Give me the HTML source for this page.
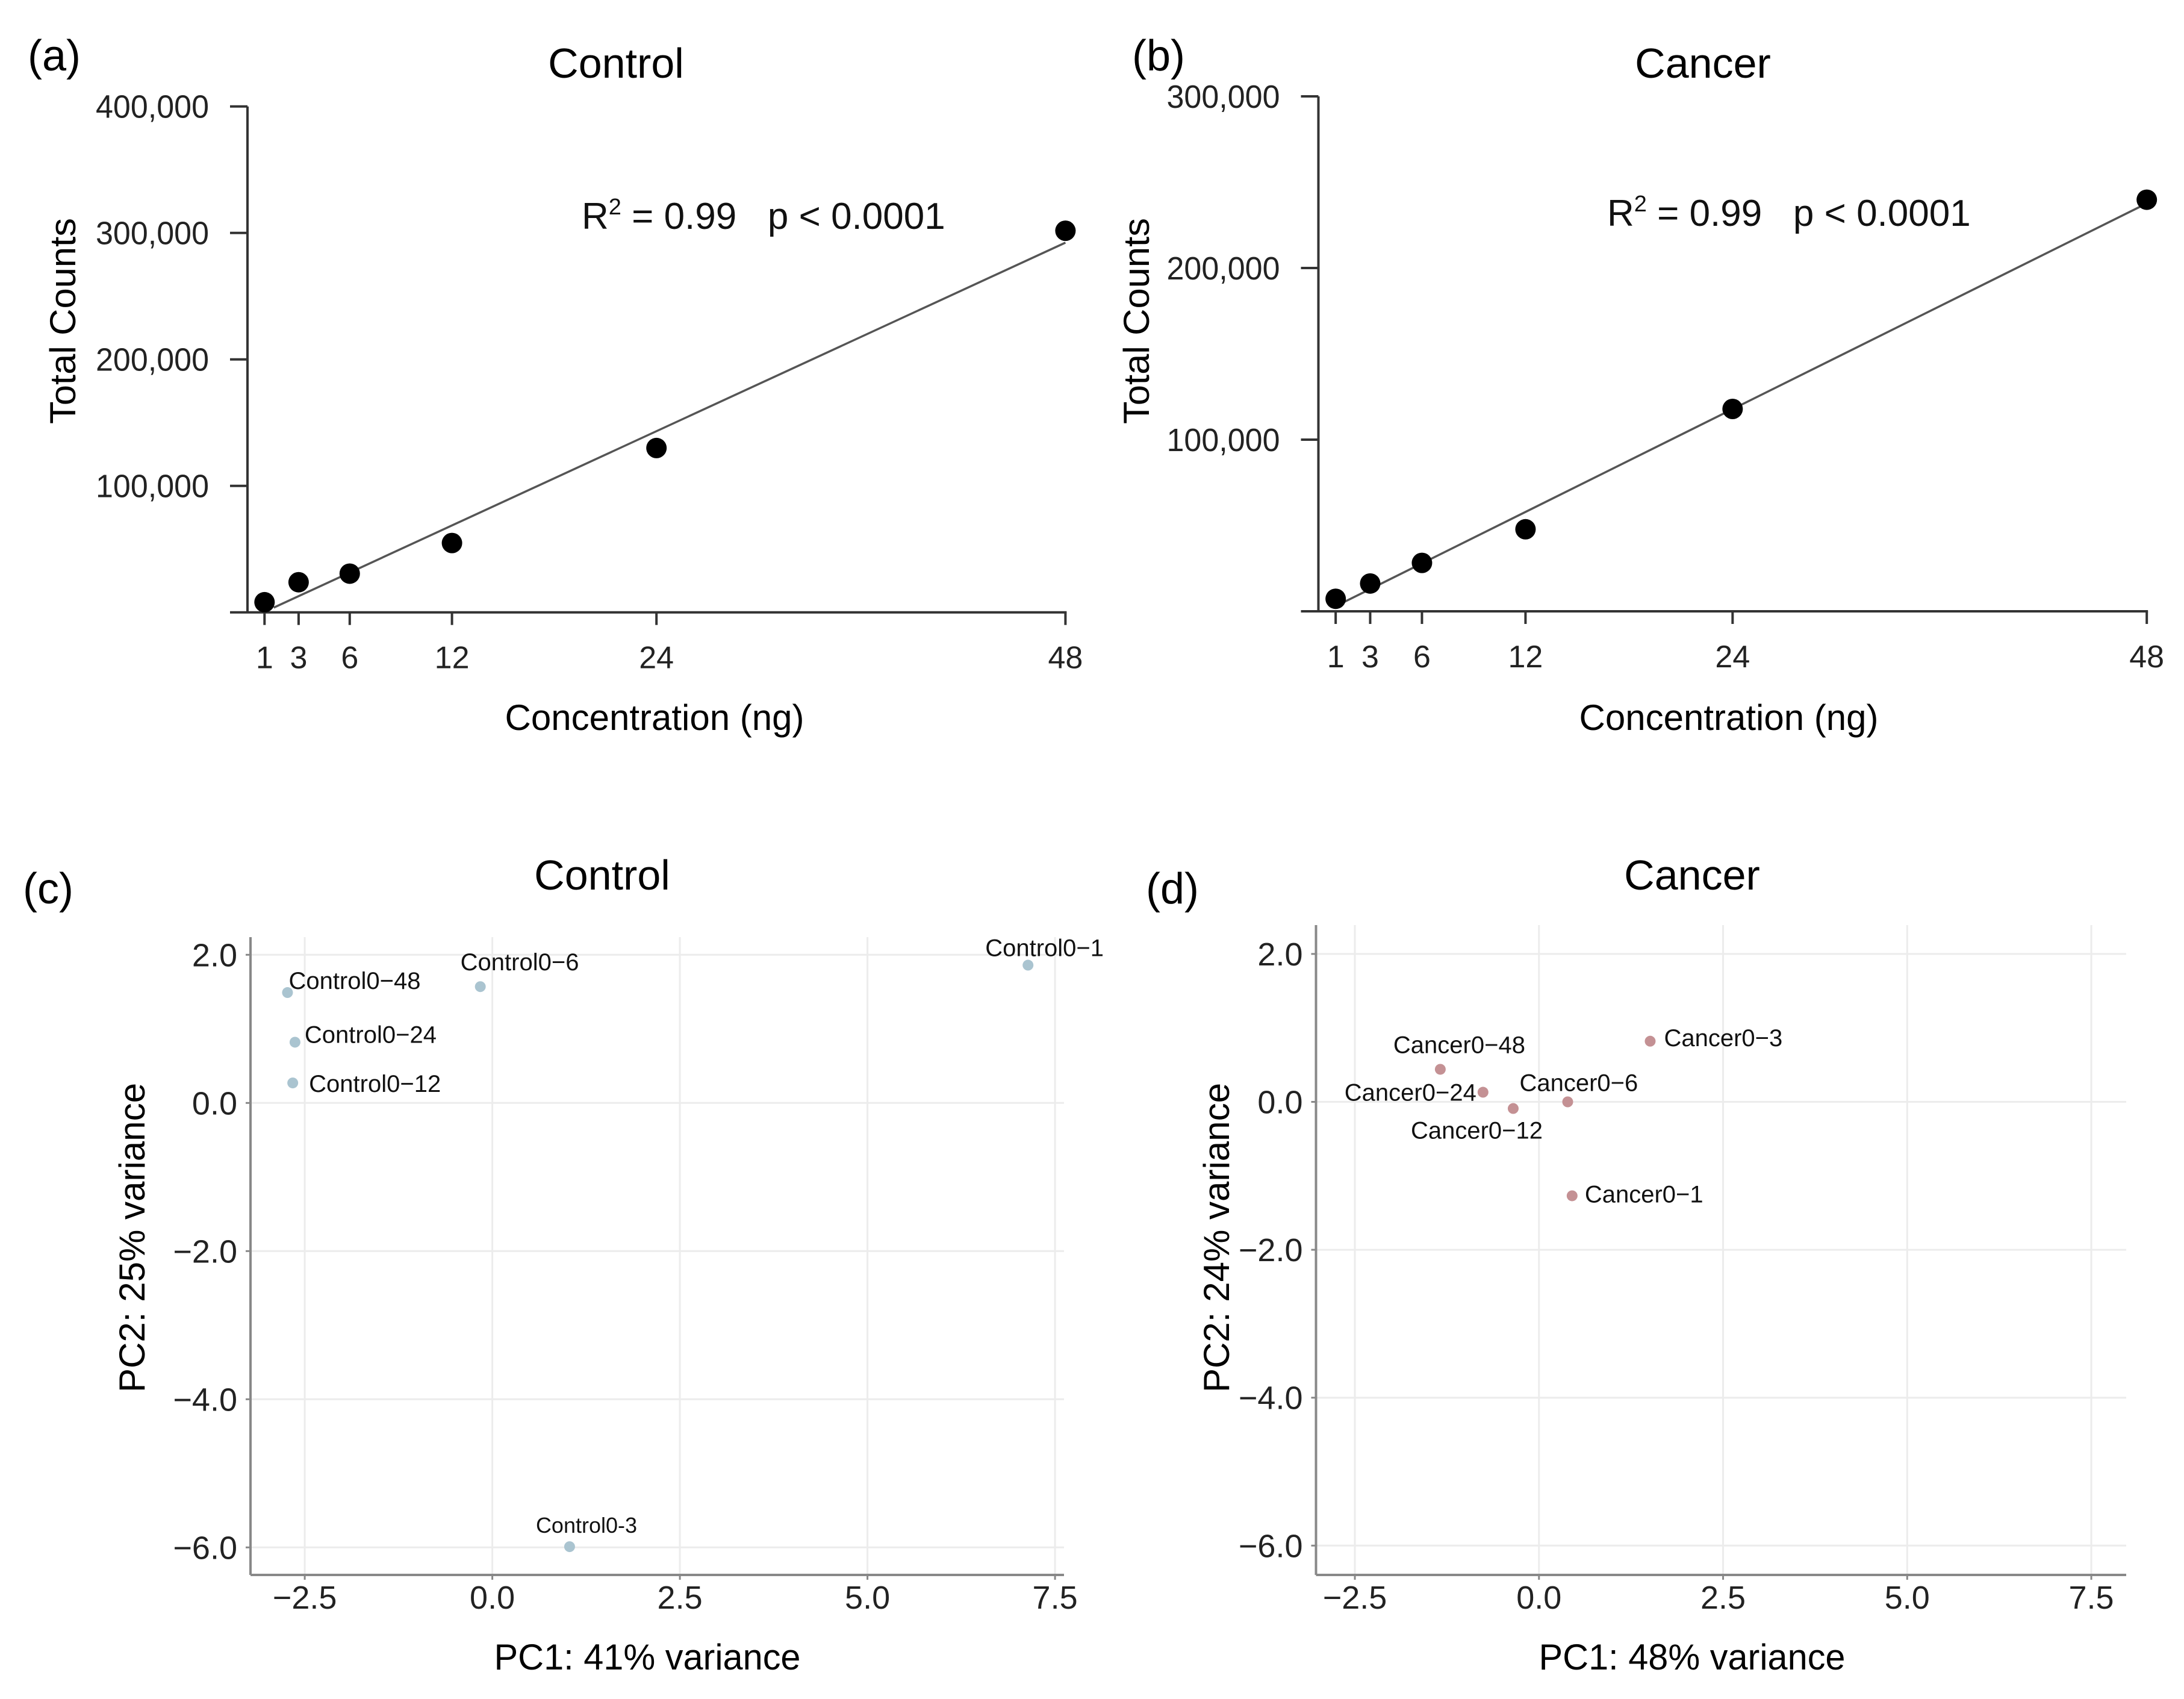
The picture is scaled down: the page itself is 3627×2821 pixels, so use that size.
<!DOCTYPE html>
<html><head><meta charset="utf-8"><style>
html,body{margin:0;padding:0;background:#fff;}
svg{display:block;font-family:"Liberation Sans",Arial,sans-serif;}
</style></head><body>
<svg id="fig" xmlns="http://www.w3.org/2000/svg" width="3627" height="2821" viewBox="0 0 3627 2821">
<rect width="3627" height="2821" fill="#fff"/>
<g id="layer"></g>
</svg>
<script>
// ---- Panel (a) & (b) data: concentration vs total counts ----
const concentrations = [1, 3, 6, 12, 24, 48];
const controlCounts = [8000, 23800, 30600, 54800, 129900, 301700];
const cancerCounts = [7300, 16200, 28200, 47800, 117900, 239800];
const controlYTicks = [100000, 200000, 300000, 400000];
const controlYTickLabels = ["100,000", "200,000", "300,000", "400,000"];
const cancerYTicks = [100000, 200000, 300000];
const cancerYTickLabels = ["100,000", "200,000", "300,000"];
const concTickLabels = ["1", "3", "6", "12", "24", "48"];

// ---- Panel (c) & (d) data: PCA ----
const controlSamples = ["Control0\u22121", "Control0\u221248", "Control0\u22126", "Control0\u221224", "Control0\u221212", "Control0-3"];
const controlPC1 = [7.14, -2.73, -0.16, -2.63, -2.66, 1.03];
const controlPC2 = [1.86, 1.49, 1.57, 0.82, 0.27, -5.99];
const cancerSamples = ["Cancer0\u22123", "Cancer0\u221248", "Cancer0\u221224", "Cancer0\u221212", "Cancer0\u22126", "Cancer0\u22121"];
const cancerPC1 = [1.51, -1.34, -0.76, -0.35, 0.39, 0.45];
const cancerPC2 = [0.82, 0.44, 0.13, -0.09, 0.0, -1.27];
const pcXTicks = [-2.5, 0, 2.5, 5, 7.5];
const pcXTickLabels = ["\u22122.5", "0.0", "2.5", "5.0", "7.5"];
const pcYTicks = [2, 0, -2, -4, -6];
const pcYTickLabels = ["2.0", "0.0", "\u22122.0", "\u22124.0", "\u22126.0"];

const NS = "http://www.w3.org/2000/svg";
const layer = document.getElementById("layer");
function mk(tag, attrs, parent, text) {
  const e = document.createElementNS(NS, tag);
  for (const k in attrs) e.setAttribute(k, attrs[k]);
  if (text !== undefined) e.textContent = text;
  (parent || layer).appendChild(e);
  return e;
}

function regressionPanel(cfg) {
  const g = mk("g", {});
  
  
  const xs = v => cfg.x0 + v * cfg.xu;
  const ys = v => cfg.y0 - v * cfg.yu;
  let t = mk("text", {x: cfg.letterX, y: 117, "font-size": 72}, g, cfg.letter);
  
  
  t = mk("text", {x: cfg.titleX, y: 129, "font-size": 70, "text-anchor": "middle"}, g, cfg.title);
  
  
  const axisTop = ys(cfg.yTicks[cfg.yTicks.length - 1]);
  let a = mk("line", {x1: cfg.x0, y1: axisTop, x2: cfg.x0, y2: cfg.y0, stroke: "#333", "stroke-width": 4}, g);
  
  
  a = mk("line", {x1: cfg.x0 - 29, y1: cfg.y0, x2: xs(48) + 2, y2: cfg.y0, stroke: "#333", "stroke-width": 4}, g);
  
  
  cfg.yTicks.forEach((v, i) => {
    const y = ys(v);
    const l = mk("line", {x1: cfg.x0 - 29, y1: y, x2: cfg.x0, y2: y, stroke: "#333", "stroke-width": 4}, g);
    
    
    const tx = mk("text", {x: cfg.x0 - 64, y: y + 19, "font-size": 54, "text-anchor": "end", fill: "#222", textLength: 188, lengthAdjust: "spacingAndGlyphs"}, g, cfg.yLabels[i]);
    
    
  });
  concentrations.forEach((v, i) => {
    const x = xs(v);
    const l = mk("line", {x1: x, y1: cfg.y0, x2: x, y2: cfg.y0 + 21, stroke: "#333", "stroke-width": 4}, g);
    
    
    const tx = mk("text", {x: x, y: cfg.y0 + 93, "font-size": 52, "text-anchor": "middle", fill: "#222"}, g, concTickLabels[i]);
    
    
  });
  t = mk("text", {x: cfg.xTitleX, y: 1212, "font-size": 60, "text-anchor": "middle", textLength: 497, lengthAdjust: "spacingAndGlyphs"}, g, "Concentration (ng)");
  
  
  t = mk("text", {x: 0, y: 0, "font-size": 60, "text-anchor": "middle", transform: `translate(${cfg.yTitleX},533) rotate(-90)`, textLength: 342, lengthAdjust: "spacingAndGlyphs"}, g, "Total Counts");
  
  
  const vals = cfg.values, n = concentrations.length;
  const mx = concentrations.reduce((s, v) => s + v, 0) / n;
  const my = vals.reduce((s, v) => s + v, 0) / n;
  let sxy = 0, sxx = 0;
  for (let i = 0; i < n; i++) { sxy += (concentrations[i] - mx) * (vals[i] - my); sxx += (concentrations[i] - mx) ** 2; }
  const slope = sxy / sxx, icpt = my - slope * mx;
  const xStart = Math.max(1, -icpt / slope + 0.6);
  const fl = mk("line", {x1: xs(xStart), y1: ys(icpt + slope * xStart), x2: xs(48), y2: ys(icpt + slope * 48), stroke: "#555", "stroke-width": 3.5}, g);
  
  
  vals.forEach((v, i) => {
    const c = mk("circle", {cx: xs(concentrations[i]), cy: ys(v), r: 17, fill: "#000"}, g);
    
    
  });
  const an = mk("text", {x: cfg.annX, y: cfg.annY, "font-size": 62, fill: "#111"}, g);
  
  
  mk("tspan", {}, an, "R");
  mk("tspan", {dy: -24, "font-size": 38}, an, "2");
  mk("tspan", {dy: 24}, an, " = 0.99\u00a0\u00a0 p < 0.0001");
}

regressionPanel({name: "panel-a-control-calibration", letter: "(a)", letterX: 46, title: "Control", titleX: 1023,
  x0: 411, xu: 28.3, y0: 1016.7, yu: 210 / 100000, yTicks: controlYTicks, yLabels: controlYTickLabels,
  values: controlCounts, xTitleX: 1087, yTitleX: 125, annX: 966, annY: 380});
regressionPanel({name: "panel-b-cancer-calibration", letter: "(b)", letterX: 1880, title: "Cancer", titleX: 2828,
  x0: 2189.5, xu: 28.66, y0: 1015, yu: 285 / 100000, yTicks: cancerYTicks, yLabels: cancerYTickLabels,
  values: cancerCounts, xTitleX: 2871, yTitleX: 1908, annX: 2669, annY: 375});

function pcaPanel(cfg) {
  const g = mk("g", {});
  
  
  const xs = v => cfg.x0 + v * cfg.xu;
  const ys = v => cfg.y0 - v * cfg.yu;
  let t = mk("text", {x: cfg.letterX, y: 1500, "font-size": 72}, g, cfg.letter);
  
  
  t = mk("text", {x: cfg.titleX, y: 1477, "font-size": 70, "text-anchor": "middle"}, g, cfg.title);
  
  
  pcXTicks.forEach(v => {
    const l = mk("line", {x1: xs(v), y1: cfg.top, x2: xs(v), y2: cfg.bottom, stroke: "#ececec", "stroke-width": 3}, g);
    
    
  });
  pcYTicks.forEach(v => {
    const l = mk("line", {x1: cfg.left, y1: ys(v), x2: cfg.right, y2: ys(v), stroke: "#ececec", "stroke-width": 3}, g);
    
    
  });
  let a = mk("line", {x1: cfg.left, y1: cfg.top, x2: cfg.left, y2: cfg.bottom, stroke: "#888", "stroke-width": 4}, g);
  
  
  a = mk("line", {x1: cfg.left, y1: cfg.bottom, x2: cfg.right, y2: cfg.bottom, stroke: "#888", "stroke-width": 4}, g);
  
  
  pcXTicks.forEach((v, i) => {
    const l = mk("line", {x1: xs(v), y1: cfg.bottom, x2: xs(v), y2: cfg.bottom + 8, stroke: "#888", "stroke-width": 3}, g);
    
    
    const tx = mk("text", {x: xs(v), y: cfg.bottom + 56, "font-size": 54, "text-anchor": "middle", fill: "#222"}, g, pcXTickLabels[i]);
    
    
  });
  pcYTicks.forEach((v, i) => {
    const l = mk("line", {x1: cfg.left - 8, y1: ys(v), x2: cfg.left, y2: ys(v), stroke: "#888", "stroke-width": 3}, g);
    
    
    const tx = mk("text", {x: cfg.left - 22, y: ys(v) + 19, "font-size": 54, "text-anchor": "end", fill: "#222"}, g, pcYTickLabels[i]);
    
    
  });
  t = mk("text", {x: cfg.xTitleX, y: 2772, "font-size": 60, "text-anchor": "middle", textLength: 509, lengthAdjust: "spacingAndGlyphs"}, g, cfg.xTitle);
  
  
  t = mk("text", {x: 0, y: 0, "font-size": 60, "text-anchor": "middle", transform: `translate(${cfg.yTitleX},2055) rotate(-90)`, textLength: 514, lengthAdjust: "spacingAndGlyphs"}, g, cfg.yTitle);
  
  
  cfg.pc1.forEach((v, i) => {
    const px = xs(v), py = ys(cfg.pc2[i]);
    const c = mk("circle", {cx: px, cy: py, r: 9, fill: cfg.color}, g);
    
    
    const o = cfg.offsets[i];
    const lb = mk("text", {x: px + o[0], y: py + o[1], "font-size": o[3] || 40, "text-anchor": o[2] || "start", fill: "#111"}, g, cfg.samples[i]);
    
    
  });
}

pcaPanel({name: "panel-c-control-pca", letter: "(c)", letterX: 38, title: "Control", titleX: 1000,
  x0: 817.6, xu: 124.6, y0: 1831.3, yu: 123, left: 416, right: 1767, top: 1556, bottom: 2615,
  xTitle: "PC1: 41% variance", yTitle: "PC2: 25% variance", xTitleX: 1075, yTitleX: 240,
  pc1: controlPC1, pc2: controlPC2, samples: controlSamples, color: "#aac4d0",
  offsets: [[-71, -15], [2, -6], [-33, -27], [16, 1], [27, 15], [-56, -23, "start", 36]]});
pcaPanel({name: "panel-d-cancer-pca", letter: "(d)", letterX: 1903, title: "Cancer", titleX: 2810,
  x0: 2555.8, xu: 122.3, y0: 1829.5, yu: 122.8, left: 2185.5, right: 3531, top: 1536, bottom: 2615,
  xTitle: "PC1: 48% variance", yTitle: "PC2: 24% variance", xTitleX: 2810, yTitleX: 2041,
  pc1: cancerPC1, pc2: cancerPC2, samples: cancerSamples, color: "#c49194",
  offsets: [[23, 8], [-78, -27], [-11, 14, "end"], [-170, 50], [-80, -18], [21, 11]]});
</script>
</body></html>
